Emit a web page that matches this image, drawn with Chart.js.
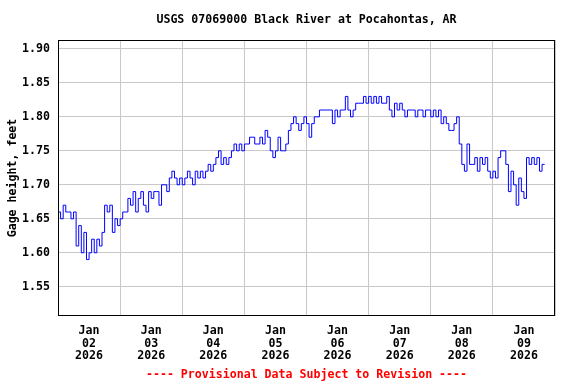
<!DOCTYPE html>
<html>
<head>
<meta charset="utf-8">
<script src="https://cdn.jsdelivr.net/npm/chart.js@4/dist/chart.umd.min.js"></script>
<style>
  html, body { margin: 0; padding: 0; background: #fff; }
  #wrap { width: 576px; height: 384px; }
</style>
</head>
<body>
<div id="wrap"><canvas id="gageChart" width="576" height="384"></canvas></div>
<script>
const chartTitle = "USGS 07069000 Black River at Pocahontas, AR";
const footerText = "---- Provisional Data Subject to Revision ----";
const yAxisTitle = "Gage height, feet";

// hours since Jan 02 2026 00:00, one reading per hour
const startHour = 0;
const stepHours = 1;
const gageHeight = [
  1.66, 1.65, 1.67, 1.66, 1.66, 1.65, 1.66, 1.61, 1.64, 1.60,
  1.63, 1.59, 1.60, 1.62, 1.60, 1.62, 1.61, 1.63, 1.67, 1.66,
  1.67, 1.63, 1.65, 1.64, 1.65, 1.66, 1.66, 1.68, 1.67, 1.69,
  1.66, 1.68, 1.69, 1.67, 1.66, 1.69, 1.68, 1.69, 1.69, 1.67,
  1.70, 1.70, 1.69, 1.71, 1.72, 1.71, 1.70, 1.71, 1.70, 1.71,
  1.72, 1.71, 1.70, 1.72, 1.71, 1.72, 1.71, 1.72, 1.73, 1.72,
  1.73, 1.74, 1.75, 1.73, 1.74, 1.73, 1.74, 1.75, 1.76, 1.75,
  1.76, 1.75, 1.76, 1.76, 1.77, 1.77, 1.76, 1.76, 1.77, 1.76,
  1.78, 1.77, 1.75, 1.74, 1.75, 1.77, 1.75, 1.75, 1.76, 1.78,
  1.79, 1.80, 1.79, 1.78, 1.79, 1.80, 1.79, 1.77, 1.79, 1.80,
  1.80, 1.81, 1.81, 1.81, 1.81, 1.81, 1.79, 1.81, 1.80, 1.81,
  1.81, 1.83, 1.81, 1.80, 1.81, 1.82, 1.82, 1.82, 1.83, 1.82,
  1.83, 1.82, 1.83, 1.82, 1.83, 1.82, 1.82, 1.83, 1.81, 1.80,
  1.82, 1.81, 1.82, 1.81, 1.80, 1.81, 1.81, 1.81, 1.80, 1.81,
  1.81, 1.80, 1.81, 1.81, 1.80, 1.81, 1.80, 1.81, 1.79, 1.80,
  1.79, 1.78, 1.78, 1.79, 1.80, 1.76, 1.73, 1.72, 1.76, 1.73,
  1.73, 1.74, 1.72, 1.74, 1.73, 1.74, 1.72, 1.71, 1.72, 1.71,
  1.74, 1.75, 1.75, 1.73, 1.69, 1.72, 1.70, 1.67, 1.71, 1.69,
  1.68, 1.74, 1.73, 1.74, 1.73, 1.74, 1.72, 1.73, 1.73
];

const yTicks = [1.55, 1.60, 1.65, 1.70, 1.75, 1.80, 1.85, 1.90];
const dayGridHours = [0, 24, 48, 72, 96, 120, 144, 168, 192];
const dayLabelHours = [12, 36, 60, 84, 108, 132, 156, 180];
const dayLabels = [
  ["Jan", "02", "2026"], ["Jan", "03", "2026"], ["Jan", "04", "2026"], ["Jan", "05", "2026"],
  ["Jan", "06", "2026"], ["Jan", "07", "2026"], ["Jan", "08", "2026"], ["Jan", "09", "2026"]
];

const monoFont = "'DejaVu Sans Mono', 'Liberation Mono', monospace";
const gridColor = "#c8c8c8";

const points = gageHeight.map((v, i) => ({ x: startHour + i * stepHours, y: v }));

const frameAndText = {
    id: "frameAndText",
    afterDraw(chart) {
        const { ctx, chartArea: a } = chart;
        const mid = (a.left + a.right) / 2;
        ctx.save();
        ctx.strokeStyle = "#000";
        ctx.lineWidth = 1;
        ctx.strokeRect(Math.round(a.left) + 0.5, Math.round(a.top) + 0.5,
            Math.round(a.right - a.left) - 1, Math.round(a.bottom - a.top) - 1);

        ctx.font = `bold 11.6px ${monoFont}`;
        ctx.textAlign = "center";
        ctx.textBaseline = "middle";
        ctx.fillStyle = "#000";
        ctx.fillText(chartTitle, mid, 19.5);
        ctx.fillStyle = "#ff0000";
        ctx.fillText(footerText, mid, 375);
        ctx.restore();
    }
};

const ctx = document.getElementById("gageChart").getContext("2d");

new Chart(ctx, {
    type: "line",
    data: {
        datasets: [{
            data: points,
            borderColor: "#0000ff",
            borderWidth: 1,
            pointRadius: 0,
            fill: false,
            stepped: true,
            tension: 0
        }]
    },
    options: {
        responsive: false,
        animation: false,
        devicePixelRatio: 1,
        layout: { padding: { top: 40, right: 21, bottom: 0, left: 0 } },
        plugins: {
            legend: { display: false },
            title: { display: false },
            tooltip: { enabled: false }
        },
        scales: {
            x: {
                type: "linear",
                position: "bottom",
                min: 0,
                max: 192,
                afterBuildTicks: (s) => { s.ticks = dayGridHours.map(v => ({ value: v })); },
                afterFit: (s) => { s.height = 0; },
                ticks: { display: false },
                grid: { color: gridColor, lineWidth: 1, drawTicks: false },
                border: { display: false }
            },
            xl: {
                type: "linear",
                position: "bottom",
                min: 0,
                max: 192,
                afterBuildTicks: (s) => { s.ticks = dayLabelHours.map(v => ({ value: v })); },
                afterFit: (s) => { s.height = 68; },
                ticks: {
                    autoSkip: false,
                    maxRotation: 0,
                    padding: 8,
                    color: "#000",
                    font: { family: monoFont, size: 11.6, weight: "bold", lineHeight: 1.12 },
                    callback: (value, index) => dayLabels[index]
                },
                grid: { display: false, drawTicks: false },
                border: { display: false }
            },
            y: {
                type: "linear",
                position: "left",
                min: 1.507,
                max: 1.913,
                afterBuildTicks: (s) => { s.ticks = yTicks.map(v => ({ value: v })); },
                afterFit: (s) => { s.width = 58; },
                ticks: {
                    padding: 8,
                    color: "#000",
                    font: { family: monoFont, size: 11.6, weight: "bold" },
                    callback: (v) => v.toFixed(2)
                },
                grid: { color: gridColor, lineWidth: 1, drawTicks: false },
                border: { display: false },
                title: {
                    display: true,
                    text: yAxisTitle,
                    color: "#000",
                    padding: { top: 6, bottom: 0 },
                    font: { family: monoFont, size: 11.6, weight: "bold" }
                }
            }
        }
    },
    plugins: [frameAndText]
});
</script>
</body>
</html>
